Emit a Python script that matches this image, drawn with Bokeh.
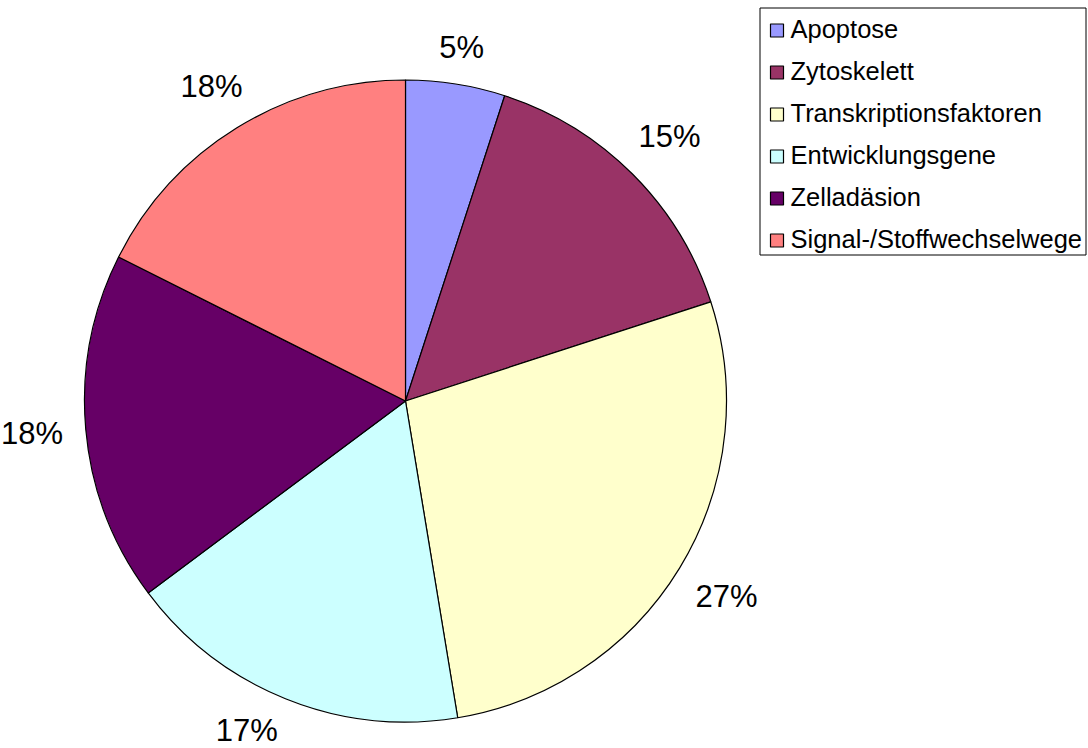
import math
from bokeh.plotting import figure
from bokeh.models import Range1d, ColumnDataSource
from bokeh.core.properties import value
from bokeh.embed import file_html
from bokeh.resources import INLINE

categories = ["Apoptose", "Zytoskelett", "Transkriptionsfaktoren",
              "Entwicklungsgene", "Zelladäsion", "Signal-/Stoffwechselwege"]
shares = [5.0, 15.0, 27.4, 17.4, 17.6, 17.6]
colors = ["#9999FF", "#993366", "#FFFFCC", "#CCFFFF", "#660066", "#FF8080"]

W, H = 1088, 748
CX, CY, R = 405, H - 400.5, 321
FONT = "Liberation Sans"
LFS = 31

p = figure(width=W, height=H, x_range=Range1d(0, W), y_range=Range1d(0, H),
           output_backend="svg", toolbar_location=None, min_border=0,
           x_axis_type=None, y_axis_type=None)
p.grid.visible = False
p.outline_line_color = None
p.background_fill_color = "white"
p.border_fill_color = "white"

total = sum(shares)
starts, ends, mids = [], [], []
c = 0.0
for s in shares:
    c0 = c / total
    c += s
    c1 = c / total
    starts.append(math.pi / 2 - 2 * math.pi * c0)
    ends.append(math.pi / 2 - 2 * math.pi * c1)
    mids.append(2 * math.pi * (c0 + c1) / 2)

src = ColumnDataSource(dict(start=starts, end=ends, color=colors, cat=categories))
p.wedge(x=CX, y=CY, radius=R, start_angle="start", end_angle="end",
        direction="clock", fill_color="color", line_color="black",
        line_width=1.2, source=src)

# percentage labels outside the pie; a label that would leave the canvas
# slides along its circle until it fits
lx, ly, lt = [], [], []
YMIN = 18
for s, m in zip(shares, mids):
    txt = f"{round(s / total * 100)}%"
    ux, uy = math.sin(m), math.cos(m)
    hw = 0.5 * (0.556 * (len(txt) - 1) + 0.889) * LFS
    hh = 12
    off = hw * abs(ux) + hh * abs(uy)
    rr = R + 22 + off
    x = CX + rr * ux
    y = CY + rr * uy
    if y < YMIN:
        dy = CY - YMIN
        dx = math.sqrt(max(rr * rr - dy * dy, 0))
        x = CX + math.copysign(dx, ux)
        y = YMIN
    lx.append(x)
    ly.append(y)
    lt.append(txt)
p.text(x=lx, y=ly, text=lt, text_font=value(FONT), text_font_size=f"{LFS}px",
       text_align="center", text_baseline="middle", text_color="black")

# legend
p.quad(left=759.5, right=1085.5, top=H - 7.5, bottom=H - 254.5,
       fill_color="white", line_color="black", line_width=1)
rows = list(range(len(categories)))
ry = [H - (28 + 42 * i) for i in rows]
p.rect(x=[776.5] * len(rows), y=[y - 2 for y in ry], width=13, height=13,
       fill_color=colors, line_color="black", line_width=1.2)
p.text(x=[790] * len(rows), y=ry, text=categories, text_font=value(FONT),
       text_font_size="25.5px", text_align="left", text_baseline="middle",
       text_color="black")

open("out.html", "w").write(file_html(p, INLINE))
